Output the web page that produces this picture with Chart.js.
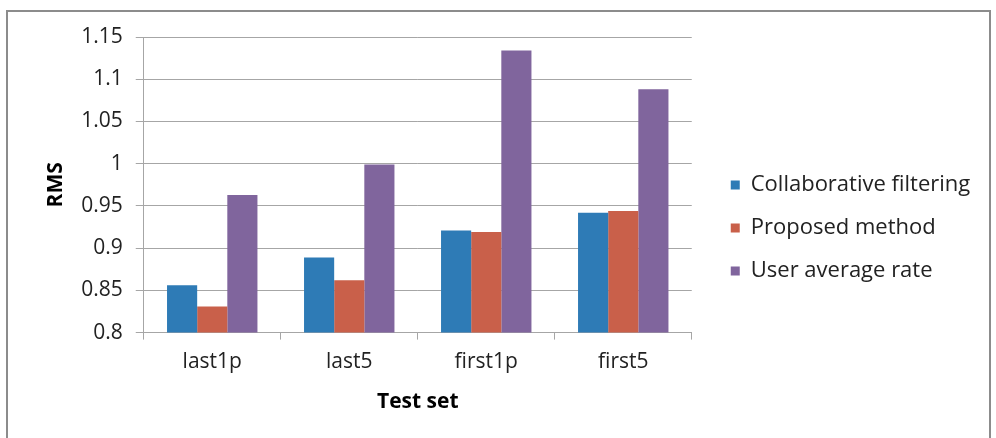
<!DOCTYPE html>
<html>
<head>
<meta charset="utf-8">
<script src="https://cdn.jsdelivr.net/npm/chart.js@4"></script>
<style>
  html, body { margin: 0; padding: 0; background: #fff; }
  #wrap { position: relative; width: 996px; height: 438px; overflow: hidden; }
  #frame { position: absolute; left: 6px; top: 10px; width: 985px; height: 460px; border: 2px solid #8c8c8c; box-sizing: border-box; }
  #grafico { position: absolute; left: 0; top: 0; }
</style>
</head>
<body>
<div id="wrap">
  <div id="frame"></div>
  <canvas id="grafico" width="996" height="438"></canvas>
</div>
<script>
// datos
const categorias = ["last1p", "last5", "first1p", "first5"]
const colaborativo = [0.856, 0.889, 0.921, 0.942]
const propuesto = [0.831, 0.862, 0.919, 0.944]
const promedioUsuario = [0.963, 0.999, 1.134, 1.088]
const ticksY = [0.8, 0.85, 0.9, 0.95, 1, 1.05, 1.1, 1.15]

const fuente = "'Open Sans', 'DejaVu Sans', sans-serif"
const separacionLeyenda = 18
const holguraLeyenda = 38

// empuja la leyenda un poco a la derecha del area del grafico
const pluginLeyenda = {
  id: "espacioLeyenda",
  afterInit(chart) {
    const lg = chart.legend
    const fitOriginal = lg.fit.bind(lg)
    lg.fit = function () { fitOriginal(); this.width += separacionLeyenda + holguraLeyenda }
  },
  afterLayout(chart) {
    chart.legend.left += separacionLeyenda
  }
}

const data = {
  labels: categorias,
  datasets: [
    { label: "Collaborative filtering", data: colaborativo, backgroundColor: "#2e7bb6" },
    { label: "Proposed method", data: propuesto, backgroundColor: "#c9604a" },
    { label: "User average rate", data: promedioUsuario, backgroundColor: "#80659d" }
  ]
}

const config = {
  type: "bar",
  data: data,
  plugins: [pluginLeyenda],
  options: {
    responsive: false,
    animation: false,
    categoryPercentage: 0.66,
    barPercentage: 1.0,
    layout: { padding: { left: 39, top: 37, right: 12, bottom: 19 } },
    plugins: {
      tooltip: { enabled: false },
      legend: {
        position: "right",
        align: "center",
        labels: {
          boxWidth: 9,
          boxHeight: 9,
          padding: 21,
          color: "#222",
          font: { family: fuente, size: 22 }
        }
      }
    },
    scales: {
      x: {
        grid: { offset: true, drawOnChartArea: false, tickLength: 7, color: "#a6a6a6", lineWidth: 1 },
        border: { color: "#a6a6a6" },
        ticks: { color: "#222", padding: 10, font: { family: fuente, size: 21 } },
        title: { display: true, text: "Test set", color: "#000", padding: { top: 5 }, font: { family: fuente, size: 21, weight: "bold" } }
      },
      y: {
        min: 0.8,
        max: 1.15,
        afterBuildTicks: (axis) => { axis.ticks = ticksY.map(v => ({ value: v })) },
        grid: { tickLength: 8, color: "#a6a6a6", lineWidth: 1 },
        border: { color: "#a6a6a6" },
        ticks: {
          color: "#222",
          padding: 13,
          font: { family: fuente, size: 21 },
          callback: (v) => String(+Number(v).toFixed(2))
        },
        title: { display: true, text: "RMS", color: "#000", padding: { bottom: 0 }, font: { family: fuente, size: 21, weight: "bold" } }
      }
    }
  }
}

const myChart = new Chart(document.getElementById("grafico"), config)
</script>
</body>
</html>
